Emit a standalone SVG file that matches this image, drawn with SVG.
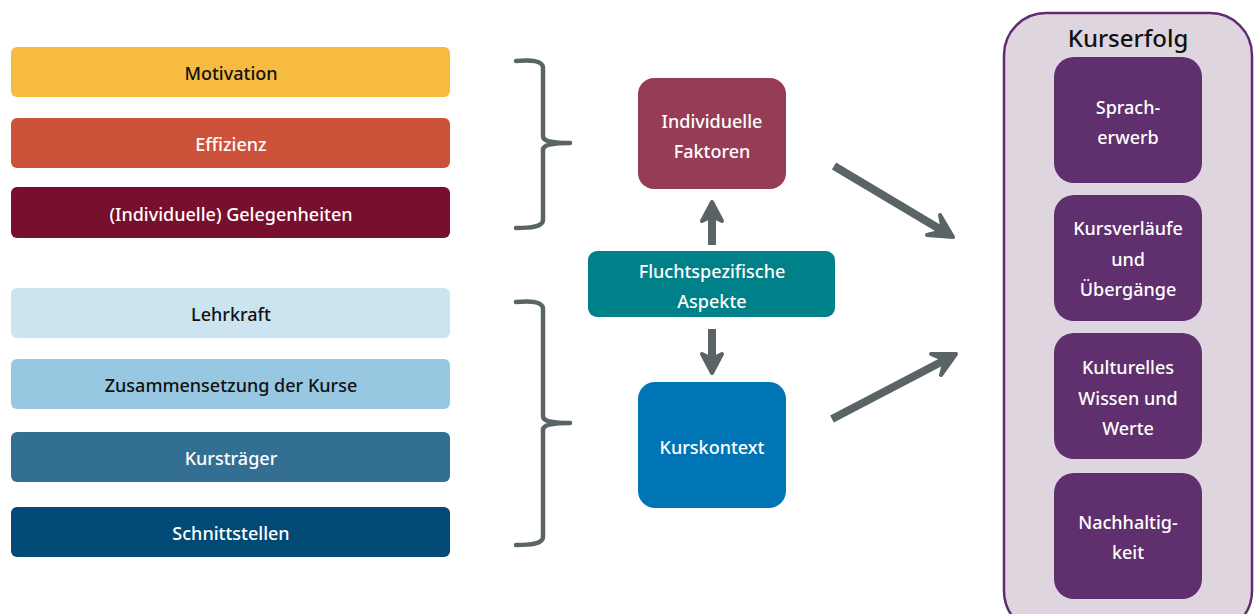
<svg xmlns="http://www.w3.org/2000/svg" width="1258" height="614" viewBox="0 0 1258 614">
<style>
text{font-family:"Noto Sans","Open Sans",sans-serif;font-size:18px;font-weight:500;text-anchor:middle;dominant-baseline:central}
.w{fill:#ffffff}
.k{fill:#111111}
.brace{fill:none;stroke:#5A6366;stroke-width:4.5;stroke-linecap:round;stroke-linejoin:round}
.shaft{fill:none;stroke:#5A6366;stroke-width:8}
.head{fill:#5A6366;stroke:#5A6366;stroke-width:4;stroke-linejoin:round}
.inner{fill:#5F2F6E}
</style>
<rect width="1258" height="614" fill="#ffffff"/>
<g id="motivation"><rect x="11" y="47" width="439" height="50" rx="6" fill="#F6BB40"/><text class="k" x="231" y="73">Motivation</text></g>
<g id="effizienz"><rect x="11" y="118" width="439" height="50" rx="6" fill="#CC523A"/><text class="w" x="231" y="144">Effizienz</text></g>
<g id="gelegenheiten"><rect x="11" y="187" width="439" height="51" rx="6" fill="#780F2E"/><text class="w" x="231" y="214">(Individuelle) Gelegenheiten</text></g>
<g id="lehrkraft"><rect x="11" y="288" width="439" height="50" rx="6" fill="#CCE3F0"/><text class="k" x="231" y="314">Lehrkraft</text></g>
<g id="zusammensetzung"><rect x="11" y="359" width="439" height="50" rx="6" fill="#98C7E1"/><text class="k" x="231" y="385">Zusammensetzung der Kurse</text></g>
<g id="kurstraeger"><rect x="11" y="432" width="439" height="50" rx="6" fill="#336F92"/><text class="w" x="231" y="458">Kursträger</text></g>
<g id="schnittstellen"><rect x="11" y="507" width="439" height="50" rx="6" fill="#004A75"/><text class="w" x="231" y="533">Schnittstellen</text></g>
<g id="individuelle-faktoren"><rect x="638" y="78" width="148" height="111" rx="16" fill="#963C55"/><text class="w" x="712" y="121">Individuelle</text><text class="w" x="712" y="151">Faktoren</text></g>
<g id="fluchtspezifische-aspekte"><rect x="588" y="251" width="247" height="66" rx="9" fill="#008088"/><text class="w" x="712" y="271">Fluchtspezifische</text><text class="w" x="712" y="301">Aspekte</text></g>
<g id="kurskontext"><rect x="638" y="382" width="148" height="126" rx="17" fill="#0075B6"/><text class="w" x="712" y="447">Kurskontext</text></g>
<g id="kurserfolg">
<rect x="1004" y="13" width="248" height="620" rx="42" fill="#DFD5DF" stroke="#5F2E6E" stroke-width="2.5"/>
<text class="k" x="1128" y="37" style="font-size:24px">Kurserfolg</text>
<g id="spracherwerb"><rect class="inner" x="1054" y="57" width="148" height="126" rx="20"/><text class="w" x="1128" y="107">Sprach-</text><text class="w" x="1128" y="137">erwerb</text></g>
<g id="kursverlaeufe"><rect class="inner" x="1054" y="195" width="148" height="126" rx="20"/><text class="w" x="1128" y="228">Kursverläufe</text><text class="w" x="1128" y="259">und</text><text class="w" x="1128" y="289">Übergänge</text></g>
<g id="kulturelles-wissen"><rect class="inner" x="1054" y="333" width="148" height="126" rx="20"/><text class="w" x="1128" y="367">Kulturelles</text><text class="w" x="1128" y="398">Wissen und</text><text class="w" x="1128" y="428">Werte</text></g>
<g id="nachhaltigkeit"><rect class="inner" x="1054" y="473" width="148" height="126" rx="20"/><text class="w" x="1128" y="522">Nachhaltig-</text><text class="w" x="1128" y="552">keit</text></g>
</g>
<g id="connectors">
<path class="brace" d="M516,61 C530,60 543,60 543,68 L543,136 C543,141 550,143 570,143 C550,143 543,145 543,150 L543,220 C543,227 530,228 516,228"/>
<path class="brace" d="M516,302 C530,301 543,301 543,309 L543,416 C543,421 550,423 570,423 C550,423 543,425 543,430 L543,537 C543,544 530,545 516,545"/>
<line class="shaft" x1="712" y1="245" x2="712" y2="216"/>
<path class="head" d="M712,202 L722,221 L712,216 L702,221 Z"/>
<line class="shaft" x1="712" y1="329" x2="712" y2="360"/>
<path class="head" d="M712,373 L722,354 L712,359 L702,354 Z"/>
<line class="shaft" x1="834" y1="166" x2="943" y2="231"/>
<path class="head" d="M953,237 L940,215 L943,231 L927,235 Z"/>
<line class="shaft" x1="832" y1="419" x2="945" y2="360"/>
<path class="head" d="M956,354 L931,354 L945,360 L941,375 Z"/>
</g>
</svg>
